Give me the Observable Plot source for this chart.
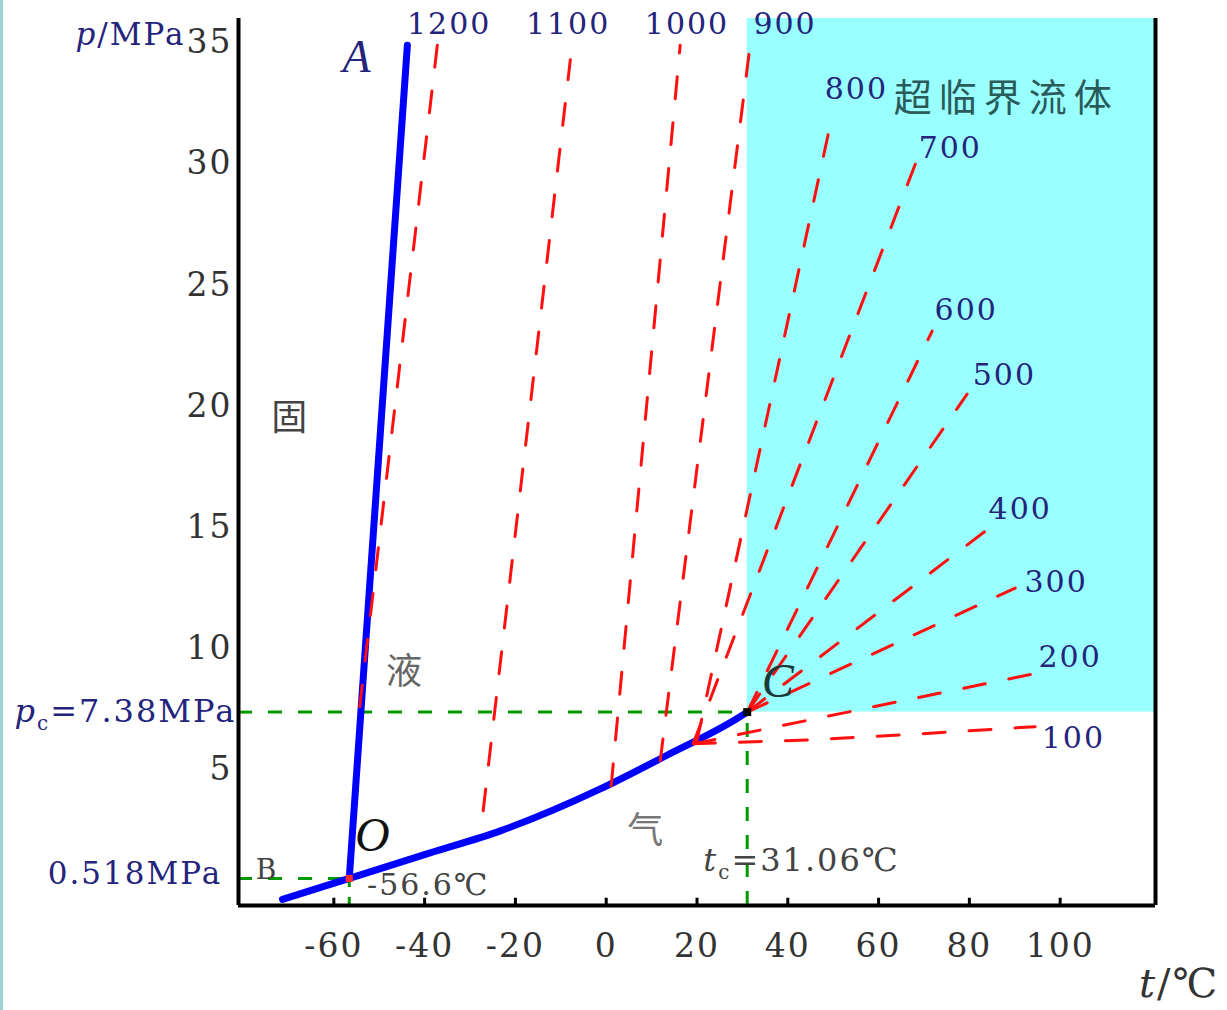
<!DOCTYPE html>
<html><head><meta charset="utf-8">
<script src="https://cdn.jsdelivr.net/npm/d3@7"></script>
<script src="https://cdn.jsdelivr.net/npm/@observablehq/plot@0.6"></script>
<style>
html,body{margin:0;padding:0;background:#fff;overflow:hidden}
#wrap{position:relative;width:1227px;height:1010px}
#edge{position:absolute;left:0;top:0;width:3px;height:1010px;background:#9fd2d2}
</style></head><body><div id="wrap"><div id="chart"></div><div id="edge"></div></div>
<script>
// ---- data ----
const xTicks = [-60, -40, -20, 0, 20, 40, 60, 80, 100];
const yTicks = [5, 10, 15, 20, 25, 30, 35];
const xDomain = [-81, 121];
const yDomain = [-0.6, 36];
const triple = {t: -56.6, p: 0.518};
const critical = {t: 31.06, p: 7.38};
const meltingT = [-56.6, -43.8];
const meltingP = [0.518, 34.9];
const sublimationT = [-71.3, -56.6];
const sublimationP = [-0.35, 0.518];
const vaporT = [-56.6, -38.8, -23.3, -1.3, 13.4, 28.0, 31.06];
const vaporP = [0.518, 1.57, 2.48, 4.21, 5.60, 7.02, 7.38];
const densities = [1200, 1100, 1000, 900, 800, 700, 600, 500, 400, 300, 200, 100];
const isoT = [[-54.3, -37.2], [-27.1, -7.9], [1.1, 16.3], [11.9, 31.7], [20.0, 49.8], [19.2, 68.1],
  [31.06, 71.8], [31.06, 79.5], [31.06, 84.6], [31.06, 90.1], [19.2, 95.2], [19.2, 45.6, 69.8, 94.5]];
const isoP = [[7.6, 34.9], [3.31, 34.3], [4.34, 34.9], [5.37, 34.9], [6.2, 32.0], [6.1, 30.0],
  [7.38, 23.1], [7.38, 20.5], [7.38, 15.0], [7.38, 12.5], [6.07, 9.0], [6.07, 6.24, 6.49, 6.78]];
const densityLabelT = [-34.6, -8.4, 17.8, 39.4, 55.1, 75.8, 79.3, 87.7, 91.2, 99.1, 102.2, 102.9];
const densityLabelP = [35.74, 35.74, 35.74, 35.74, 33.06, 30.66, 23.97, 21.28, 15.74, 12.73, 9.63, 6.28];

// ---- tables built from arrays ----
const toPts = (T, P) => T.map((t, i) => ({t, p: P[i]}));
const melting = toPts(meltingT, meltingP);
const sublimation = toPts(sublimationT, sublimationP);
const vapor = toPts(vaporT, vaporP);
const isochores = densities.flatMap((rho, i) => isoT[i].map((t, j) => ({rho, t, p: isoP[i][j]})));
const densityLabels = densities.map((rho, i) => ({rho, t: densityLabelT[i], p: densityLabelP[i]}));

const navy = "#24247c";
const green = "#009a00";
const serif = "DejaVu Serif";
const cjk = "Noto Sans CJK SC";

const richParts = [];
function rich(pos, parts, opts) {
  const s = parts.map(d => d[0]).join("");
  richParts.push({s, parts});
  return Plot.text([pos], {x: "t", y: "p", text: () => s, fontFamily: serif, ...opts});
}
function label(pos, text, opts) {
  return Plot.text([pos], {x: "t", y: "p", text: () => text, ...opts});
}

const chart = Plot.plot({
  width: 1227, height: 1010,
  marginLeft: 238, marginRight: 72, marginTop: 18, marginBottom: 105,
  x: {domain: xDomain, ticks: xTicks, tickSize: 0, tickPadding: 28, tickFormat: d => String(d), label: null},
  y: {domain: yDomain, ticks: yTicks, tickSize: 0, tickPadding: 6, tickFormat: d => String(d), label: null},
  style: {fontFamily: serif, fontSize: "33px", letterSpacing: "2px", background: "#fff", color: "#333", overflow: "visible"},
  marks: [
    // supercritical region
    Plot.rect([critical], {x1: "t", x2: () => xDomain[1], y1: "p", y2: () => yDomain[1], fill: "#99ffff"}),
    // green guide lines
    Plot.ruleY([critical], {y: "p", x1: () => xDomain[0], x2: "t", stroke: green, strokeWidth: 3, strokeDasharray: "14,16"}),
    Plot.ruleX([critical], {x: "t", y1: () => yDomain[0], y2: "p", stroke: green, strokeWidth: 3, strokeDasharray: "14,14"}),
    Plot.ruleY([triple], {y: "p", x1: () => xDomain[0], x2: "t", stroke: green, strokeWidth: 3, strokeDasharray: "14,16"}),
    Plot.ruleX([triple], {x: "t", y1: () => yDomain[0], y2: "p", stroke: green, strokeWidth: 3, strokeDasharray: "8,10"}),
    // phase boundaries
    Plot.line(melting, {x: "t", y: "p", stroke: "#0000ff", strokeWidth: 7}),
    Plot.line(sublimation, {x: "t", y: "p", stroke: "#0000ff", strokeWidth: 7}),
    Plot.line(vapor, {x: "t", y: "p", stroke: "#0000ff", strokeWidth: 7, curve: "monotone-x"}),
    // isochores
    Plot.line(isochores, {x: "t", y: "p", z: "rho", stroke: "#ff1010", strokeWidth: 3, strokeDasharray: "22,24"}),
    Plot.dot([triple], {x: "t", y: "p", symbol: "square", r: 4, fill: "#ff2a2a"}),
    Plot.dot([critical], {x: "t", y: "p", symbol: "square", r: 4.5, fill: "#000"}),
    // frame
    Plot.ruleX([xDomain[0]], {y1: () => yDomain[0], y2: () => yDomain[1], stroke: "#000", strokeWidth: 4}),
    Plot.ruleX([xDomain[1]], {y1: () => yDomain[0], y2: () => yDomain[1], stroke: "#000", strokeWidth: 4}),
    Plot.ruleY([yDomain[0]], {x1: () => xDomain[0], x2: () => xDomain[1], stroke: "#000", strokeWidth: 4}),
    Plot.ruleX(xTicks, {y1: () => yDomain[0], y2: () => yDomain[0] + 0.3, stroke: "#000", strokeWidth: 3}),
    // density labels
    Plot.text(densityLabels, {x: "t", y: "p", text: d => String(d.rho), fill: navy, fontSize: 30, fontFamily: serif}),
    // point letters
    label({t: -54.8, p: 34.42}, "A", {fill: navy, fontSize: 46, fontStyle: "italic", fontFamily: "Liberation Serif"}),
    label({t: -51.3, p: 2.27}, "O", {fill: "#111", fontSize: 48, fontStyle: "italic", fontFamily: "Liberation Serif"}),
    label({t: 38.0, p: 8.64}, "C", {fill: "#1a3a3a", fontSize: 48, fontStyle: "italic", fontFamily: "Liberation Serif"}),
    label({t: -74.7, p: 0.87}, "B", {fill: "#444", fontSize: 28, fontFamily: serif}),
    // phase region names
    label({t: -69.6, p: 19.5}, "固", {fill: "#444", fontSize: 36, fontFamily: cjk}),
    label({t: -44.3, p: 9.0}, "液", {fill: "#666", fontSize: 36, fontFamily: cjk}),
    label({t: 8.8, p: 2.44}, "气", {fill: "#777", fontSize: 36, fontFamily: cjk}),
    label({t: 88.1, p: 32.69}, "超临界流体", {fill: "#2a5a5a", fontSize: 38, fontFamily: cjk}),
    // annotations
    label({t: -84.6, p: 0.70}, "0.518MPa", {fill: navy, fontSize: 31, textAnchor: "end", fontFamily: serif}),
    label({t: -39.2, p: 0.25}, "-56.6℃", {fill: "#444", fontSize: 30, fontFamily: serif}),
    rich({t: -81.5, p: 7.40}, [["p", "i"], ["c", "s"], ["=7.38MPa", ""]], {fill: navy, fontSize: 32, textAnchor: "end"}),
    rich({t: 21.4, p: 1.24}, [["t", "i"], ["c", "s"], ["=31.06℃", ""]], {fill: "#444", fontSize: 32, textAnchor: "start"}),
    rich({t: -92.7, p: 35.33}, [["p", "i"], ["/MPa", ""]], {fill: navy, fontSize: 31, textAnchor: "end"}),
    rich({t: 126.2, p: -3.85}, [["t", "i"], ["/℃", ""]], {fill: "#333", fontSize: 40, textAnchor: "middle"})
  ]
});

// rich text post-processing (italic symbols, subscripts)
const NS = "http://www.w3.org/2000/svg";
const allText = Array.from(chart.querySelectorAll("text"));
for (const {s, parts} of richParts) {
  const el = allText.find(e => e.textContent === s);
  if (!el) continue;
  while (el.firstChild) el.removeChild(el.firstChild);
  let shifted = false;
  for (const [str, st] of parts) {
    const ts = document.createElementNS(NS, "tspan");
    ts.textContent = str;
    if (st.includes("i")) ts.setAttribute("font-style", "italic");
    if (st.includes("s")) { ts.setAttribute("font-size", "20"); ts.setAttribute("dy", "8"); shifted = true; }
    else if (shifted) { ts.setAttribute("dy", "-8"); shifted = false; }
    el.appendChild(ts);
  }
}
const sc = allText.find(e => e.textContent === "超临界流体");
if (sc) sc.setAttribute("letter-spacing", "7px");

document.getElementById("chart").appendChild(chart);
</script></body></html>
